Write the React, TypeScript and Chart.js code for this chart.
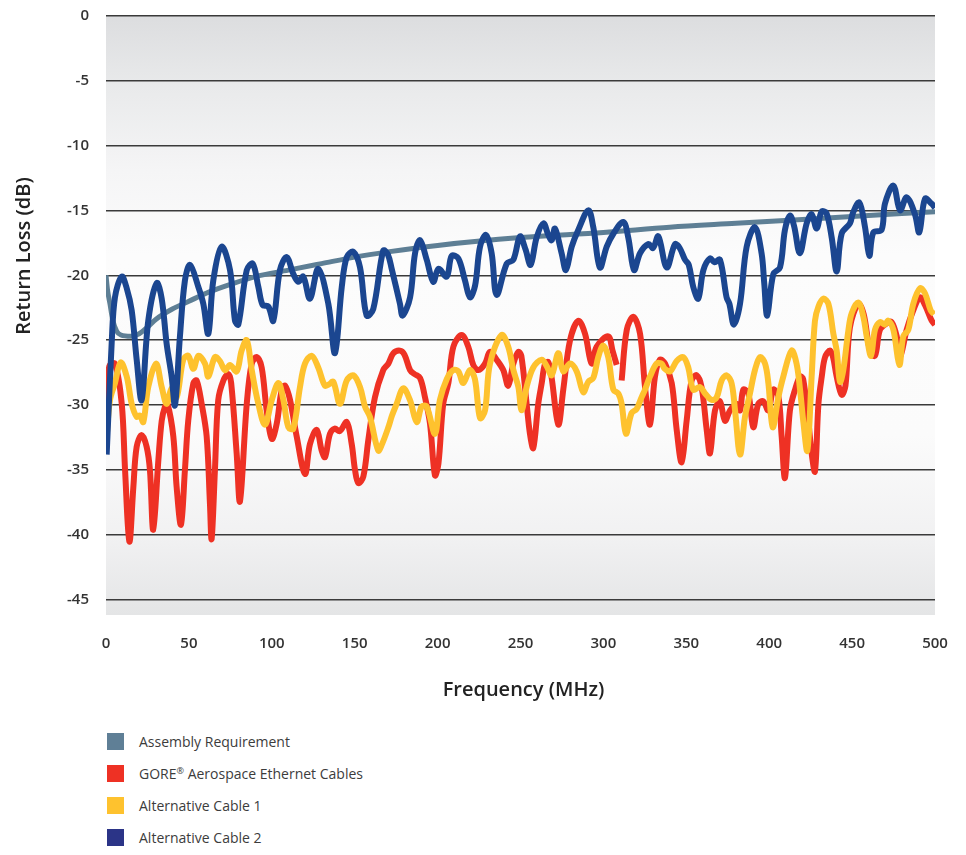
import React, { useEffect, useRef } from "react";
import { Chart, registerables } from "chart.js";

Chart.register(...registerables);

// ---------- Data ----------
const xTickValues = [0, 50, 100, 150, 200, 250, 300, 350, 400, 450, 500];
const yTickValues = [0, -5, -10, -15, -20, -25, -30, -35, -40, -45];

const seriesNames = [
  "Assembly Requirement",
  "GORE\u00AE Aerospace Ethernet Cables",
  "Alternative Cable 1",
  "Alternative Cable 2",
];
const legendColors = ["#5f7f96", "#ee3124", "#fec22e", "#2b3487"];
const lineColors = ["#5e7f95", "#ee3124", "#fec22e", "#1b4690"];

const assemblyFreq = [0, 1, 2.4, 4, 6.4, 9, 15, 20, 25, 30, 40, 50, 62, 75, 90, 110, 130, 150, 170, 200, 250, 300, 340, 380, 420, 460, 500];
const assemblyLoss = [-20, -21.2, -22.2, -23.4, -24.3, -24.6, -24.7, -24.5, -24.0, -23.4, -22.6, -22.0, -21.3, -20.7, -20.1, -19.6, -19.1, -18.6, -18.2, -17.7, -17.1, -16.7, -16.3, -16.0, -15.7, -15.4, -15.1];

const goreFreq = [0, 2, 5.4, 9.5, 11.5, 14.1, 16.5, 18.5, 21.5, 24.5, 26.5, 28.5, 31.6, 33.6, 35.6, 37.1, 40.6, 42.6, 45.2, 47.6, 49.6, 52.7, 54.7, 57.7, 60.7, 62.7, 63.7, 65.7, 67.7, 70.8, 73.8, 75.5, 78.8, 80.8, 84.9, 87.9, 90.9, 93.9, 96.9, 100, 103, 106, 108, 111, 115, 120, 123, 127.1, 130.1, 132.1, 135.1, 138, 141, 145.2, 148.2, 150.2, 152.2, 155.2, 158.2, 162.2, 167.2, 170.3, 173.3, 177.3, 180, 183.4, 186, 189.4, 192.4, 195.4, 198.4, 200.5, 203.4, 206.5, 209.5, 214.5, 218.5, 221.5, 224.6, 228.6, 231.6, 235.6, 239.6, 242.6, 245.7, 248.7, 250.5, 253.7, 255.7, 257.7, 260.7, 262.8, 264.8, 266.8, 268.8, 272.8, 275.8, 279.9, 284.9, 288.9, 292.9, 295.9, 302.9, 305.5, 308, 309.5, 311, 314.1, 318.1, 322.1, 325.1, 328.1, 331.1, 334.1, 337.2, 341.2, 344.2, 347.2, 350.2, 353.2, 356.2, 359.2, 362.3, 364.3, 367.3, 370.3, 373.3, 376.4, 380.4, 382.4, 384.4, 387.4, 390.4, 393.4, 396.4, 399.5, 402.5, 405.5, 407.5, 409.5, 412.5, 415.6, 418.6, 420.5, 423.6, 425.6, 427.6, 429.7, 431.7, 433.7, 436.7, 438.5, 440.7, 443.7, 446, 448.7, 453.8, 457, 460.8, 463.8, 466.8, 470.9, 473.8, 476.9, 478.9, 482.9, 486.9, 491, 494, 498, 500];
const goreLoss = [-29.8, -27, -26.8, -29.9, -35, -40.5, -36.3, -33.2, -32.3, -33.2, -35, -39.6, -34.2, -31.2, -30.1, -29.9, -32.4, -36.3, -39.2, -35, -31.2, -28.3, -28.1, -29.9, -32.4, -37.6, -40.3, -35, -29.6, -28.1, -27.6, -28.3, -33.7, -37.4, -29.9, -26.8, -26.3, -27.1, -30.4, -32.6, -31.4, -28.8, -28.5, -29.6, -32.4, -35.3, -33, -31.9, -33.5, -34, -32.2, -31.8, -32.0, -31.3, -33, -35, -36.0, -35.5, -32.7, -29.4, -27.3, -26.8, -26, -25.8, -26.1, -27.3, -27.6, -27.9, -29.4, -31.4, -35.4, -34.5, -29.9, -28.3, -25.5, -24.6, -25.5, -26.9, -27.3, -26.8, -25.9, -26.5, -27.3, -28.5, -26.8, -25.9, -26.2, -29.9, -32.2, -33.3, -29.9, -28.3, -26.8, -26.7, -27.9, -31.5, -28.8, -25, -23.5, -24.5, -26.8, -25.5, -24.7, -25.8, -26.9, null, -28.1, -24.2, -23.2, -24.5, -28.6, -31.5, -27.8, -26.5, -26.8, -28.3, -31.9, -34.4, -31.2, -28.1, -27.7, -28.6, -31.9, -33.7, -30.4, -29.7, -31.2, -30.4, -29.9, -30.4, -28.8, -29.1, -31.7, -29.9, -29.7, -30.4, -28.8, -29.3, -32.4, -35.6, -30.4, -28.8, -27.8, -28, -31.2, -33.7, -35.1, -29.9, -27.8, -26.3, -25.8, -26.3, -27.8, -29.2, -28.5, -24.0, -22.2, -23.0, -25.8, -26.2, -24.2, -23.7, -23.6, -24.7, -26.3, -24.2, -22.7, -21.7, -22.3, -23.5, -23.8];

const alt1Freq = [0.4, 2.4, 5.4, 8.8, 12.5, 15.5, 18.5, 20.5, 22.5, 25.5, 30.2, 33.6, 36.6, 39.6, 42.6, 46.6, 49.6, 52.7, 55.7, 59.7, 61.7, 65.7, 68.7, 71.8, 74.8, 78.8, 81.8, 84.9, 87.9, 91.9, 95.9, 100, 104, 107, 110, 113, 117, 120, 124.1, 128, 132, 134.5, 137.1, 141.1, 145.2, 149.2, 153.2, 156.2, 159.2, 164.2, 166.5, 170.3, 172.5, 175.3, 179.3, 183.3, 187.4, 190.4, 193.4, 198.4, 201.4, 205.5, 209.5, 212.5, 215.5, 219.5, 222.5, 225.6, 228.6, 231.6, 238.6, 242.6, 245.7, 248.7, 250.7, 253.7, 257.7, 262.8, 265.8, 268.8, 272.8, 275.8, 279.9, 283.9, 287.9, 290.9, 293.9, 296.9, 299.9, 302.9, 306, 309, 311, 313.6, 317, 320, 323, 325.1, 328.1, 332.1, 335, 337, 340.2, 344.2, 348.2, 351.2, 354.2, 358.3, 361.3, 365.3, 368.3, 371.3, 374.3, 377.3, 379.4, 382.4, 385.4, 388.4, 391.4, 394.5, 397.5, 399.5, 402.1, 405.5, 408.5, 413.5, 416.5, 418.6, 420.6, 423, 425.6, 427.6, 429.7, 432.7, 435.7, 438.7, 440.7, 442.7, 444.7, 447.8, 449.8, 453.8, 456.8, 458.8, 461.4, 463.8, 466.8, 469.8, 471.8, 474.9, 478.5, 480.9, 483.9, 486.9, 491, 494, 497.4, 499.5];
const alt1Loss = [-32.4, -29.6, -28.3, -26.7, -27.8, -29.9, -30.9, -30.8, -31.3, -28.6, -26.8, -28.6, -29.9, -28.7, -29.4, -26.5, -26.2, -27.2, -26.2, -26.8, -27.8, -26.3, -26.6, -27.3, -26.9, -27.4, -25.8, -25.0, -27.3, -29.9, -31.5, -29.6, -28.3, -29.6, -31.7, -31.8, -28.6, -26.8, -26.2, -27.1, -28.5, -28.4, -28.2, -29.9, -28.1, -27.7, -28.6, -30.1, -30.9, -33.5, -33.0, -31.7, -30.8, -29.9, -28.7, -29.6, -31.3, -30.1, -30.1, -32.2, -29.6, -28.0, -27.3, -27.4, -28.3, -27.3, -28.0, -31.0, -30.4, -26.8, -24.6, -25.5, -27.3, -28.6, -30.4, -28.6, -27.1, -26.5, -27.0, -27.7, -26.0, -27.4, -26.8, -27.4, -29.0, -28.2, -27.9, -26.3, -25.4, -26.3, -28.8, -29.1, -29.9, -32.2, -30.6, -30.3, -29.4, -28.8, -27.8, -26.8, -26.8, -27.2, -27.4, -26.6, -26.3, -27.1, -28.8, -28.6, -29.1, -29.6, -29.4, -28.1, -27.7, -28.3, -30.4, -33.8, -30.9, -29.1, -27.3, -26.3, -26.8, -28.3, -31.7, -29.4, -27.8, -25.8, -26.8, -28.8, -31.3, -33.5, -27.8, -23.5, -22.4, -21.8, -22.2, -24.5, -25.8, -28.2, -27.3, -24.2, -22.9, -22.1, -23.2, -24.7, -26.2, -24.2, -23.6, -23.8, -23.5, -24.2, -26.9, -24.7, -24.2, -22.2, -21.0, -21.4, -22.7, -23.0];

const alt2Freq = [0.4, 3.4, 5.4, 9.5, 12.5, 15.5, 18.5, 21.5, 25.5, 30.6, 33.6, 36.6, 39.6, 41.6, 44.6, 47.6, 50.7, 55.7, 58.7, 61.7, 64.7, 69.7, 74.8, 77.8, 79.8, 84.9, 88.5, 91.9, 94.5, 97.9, 100.9, 104.9, 109, 113, 116, 119, 123, 128, 134.1, 138.1, 142.2, 145.2, 149.2, 153.2, 157.2, 161.2, 167.2, 170, 172.3, 177.3, 178.9, 183.4, 186.4, 189.4, 193.4, 197.4, 200.5, 205.5, 208.5, 212.5, 216.5, 219.5, 222.6, 225.6, 229.2, 232.6, 235.6, 241.7, 245.7, 249.7, 253, 256.1, 259.7, 263.8, 266.8, 268.8, 270.8, 274.8, 277.4, 280.9, 284.9, 290.9, 293.9, 297.9, 302, 306, 312, 315, 318.5, 322.1, 327.1, 330, 333.1, 338.2, 343.2, 346, 349.2, 351.5, 354.2, 357.2, 360.3, 364.3, 367, 370.3, 374.3, 376, 378.7, 382.4, 386.4, 391.4, 395.4, 397, 398.8, 402.5, 406.5, 409.5, 412.5, 415, 418.5, 422.6, 425.6, 428.6, 431.6, 434.5, 437.7, 440.7, 443.7, 448.7, 450.5, 454.3, 457.8, 460.4, 462.8, 467.8, 469.8, 474.9, 478.9, 482.9, 487.9, 490.5, 494, 498, 500];
const alt2Loss = [-33.8, -25.3, -21.7, -20.1, -21, -22.7, -26.5, -29.6, -23.5, -20.6, -21.8, -25.3, -27.8, -30.0, -24.7, -20.4, -19.2, -20.9, -22.2, -24.5, -20.4, -17.8, -19.6, -23.5, -23.8, -19.6, -19.1, -20.9, -22.3, -22.4, -23.5, -19.6, -18.6, -19.9, -20.5, -20.1, -21.8, -19.5, -22.2, -26.0, -20.9, -18.6, -18.2, -19.4, -23.1, -22.6, -18.1, -18.4, -19.5, -22.2, -23.1, -21.7, -18.3, -17.3, -18.8, -20.5, -19.5, -20.1, -18.5, -18.7, -20.4, -21.7, -20.8, -17.8, -16.9, -18.3, -21.5, -19.1, -18.8, -17.0, -18, -19.2, -17.1, -16.0, -16.9, -17.3, -16.4, -18.3, -19.6, -17.8, -16.5, -15.0, -16.3, -19.4, -17.8, -16.8, -15.9, -17.1, -19.6, -18.3, -17.6, -17.9, -17.0, -19.4, -17.6, -17.9, -18.8, -19.2, -20.9, -21.8, -19.6, -18.7, -19.0, -18.8, -21.7, -22.2, -23.8, -22.2, -17.8, -16.3, -18.3, -20.6, -23.1, -19.9, -19.4, -16.5, -15.4, -16.2, -18.3, -16.0, -15.3, -16.4, -15.1, -15.2, -17.1, -19.7, -16.8, -16.0, -15.2, -14.4, -16.3, -18.5, -16.7, -16.5, -14.5, -13.1, -15.0, -14.0, -15.3, -16.7, -14.1, -14.5, -14.8];

const toPoints = (xs: number[], ys: (number | null)[]) => xs.map((x, i) => ({ x, y: ys[i] }));

const FONT = "'Open Sans', 'Noto Sans', sans-serif";

const decorPlugin = {
  id: "decor",
  beforeDraw(chart: any) {
    const { ctx, chartArea: a } = chart;
    const bottom = a.bottom + 15;
    const g = ctx.createLinearGradient(0, a.top, 0, bottom);
    g.addColorStop(0, "#dcdddf");
    g.addColorStop(0.12, "#e9eaeb");
    g.addColorStop(0.26, "#f5f5f6");
    g.addColorStop(0.4, "#fcfcfc");
    g.addColorStop(0.7, "#fbfbfb");
    g.addColorStop(0.87, "#f1f1f2");
    g.addColorStop(1, "#e4e5e6");
    ctx.save();
    ctx.fillStyle = g;
    ctx.fillRect(a.left, a.top, a.right - a.left, bottom - a.top);
    ctx.restore();
  },
  afterDraw(chart: any) {
    const { ctx, chartArea: a } = chart;
    ctx.save();
    ctx.fillStyle = "#222";
    ctx.font = `600 20px ${FONT}`;
    ctx.textAlign = "center";
    ctx.textBaseline = "middle";
    ctx.fillText("Frequency (MHz)", (a.left + a.right) / 2 + 3, 682);
    ctx.translate(16, 248);
    ctx.rotate(-Math.PI / 2);
    ctx.fillText("Return Loss (dB)", 0, 0);
    ctx.restore();
  },
};

function LegendLabel({ text }: { text: string }) {
  const parts = text.split("\u00AE");
  if (parts.length < 2) return <>{text}</>;
  return (
    <>
      {parts[0]}
      <span style={{ fontSize: 9, verticalAlign: "5px" }}>{"\u00AE"}</span>
      {parts[1]}
    </>
  );
}

export default function App() {
  const ref = useRef<HTMLCanvasElement | null>(null);

  useEffect(() => {
    if (!ref.current) return;
    const common = {
      fill: false,
      pointRadius: 0,
      pointHoverRadius: 0,
      borderCapStyle: "butt" as const,
      borderJoinStyle: "round" as const,
      spanGaps: false,
    };
    const chart = new Chart(ref.current, {
      type: "line",
      data: {
        datasets: [
          { ...common, label: seriesNames[0], data: toPoints(assemblyFreq, assemblyLoss), borderColor: lineColors[0], borderWidth: 5, cubicInterpolationMode: "monotone", order: 3 },
          { ...common, label: seriesNames[1], data: toPoints(goreFreq, goreLoss), borderColor: lineColors[1], borderWidth: 6, tension: 0.35, order: 2 },
          { ...common, label: seriesNames[2], data: toPoints(alt1Freq, alt1Loss), borderColor: lineColors[2], borderWidth: 6, tension: 0.35, order: 1 },
          { ...common, label: seriesNames[3], data: toPoints(alt2Freq, alt2Loss), borderColor: lineColors[3], borderWidth: 6, tension: 0.35, order: 0 },
        ] as any,
      },
      options: {
        animation: false,
        responsive: false,
        devicePixelRatio: 1,
        layout: { padding: { top: 0, right: 23, left: 0, bottom: 0 } },
        plugins: { legend: { display: false }, tooltip: { enabled: false } },
        events: [],
        scales: {
          x: {
            type: "linear",
            min: 0,
            max: 500,
            afterBuildTicks: (s: any) => {
              s.ticks = xTickValues.map((v) => ({ value: v }));
            },
            afterFit: (s: any) => {
              s.height = 128;
            },
            ticks: {
              color: "#333",
              font: { family: FONT, size: 15, weight: "600", lineHeight: 1 },
              padding: 0,
              maxRotation: 0,
              autoSkip: false,
            },
            grid: {
              display: true,
              drawOnChartArea: false,
              drawTicks: true,
              tickLength: 36,
              color: "rgba(0,0,0,0)",
              tickColor: "rgba(0,0,0,0)",
            },
            border: { display: false },
          },
          y: {
            type: "linear",
            min: -45,
            max: 0,
            afterBuildTicks: (s: any) => {
              s.ticks = yTickValues.map((v) => ({ value: v }));
            },
            afterFit: (s: any) => {
              s.width = 98;
            },
            ticks: {
              color: "#333",
              font: { family: FONT, size: 15, weight: "600", lineHeight: 1 },
              padding: 0,
              autoSkip: false,
            },
            grid: {
              color: "#3a3a3a",
              lineWidth: 1.5,
              drawTicks: true,
              tickLength: 17,
              tickColor: "rgba(0,0,0,0)",
            },
            border: { display: false },
          },
        },
      } as any,
      plugins: [decorPlugin],
    });
    return () => chart.destroy();
  }, []);

  return (
    <div style={{ width: 950, position: "relative", fontFamily: FONT }}>
      <canvas ref={ref} width={950} height={720} style={{ display: "block", width: 950, height: 720 }} />
      <div style={{ marginTop: -3 }}>
        {seriesNames.map((name, i) => (
          <div key={name} style={{ display: "flex", alignItems: "center", height: 32 }}>
            <span style={{ display: "inline-block", width: 17, height: 17, background: legendColors[i], marginLeft: 99 }} />
            <span style={{ marginLeft: 15, fontSize: 14, color: "#3c3c3c" }}>
              <LegendLabel text={name} />
            </span>
          </div>
        ))}
      </div>
    </div>
  );
}
